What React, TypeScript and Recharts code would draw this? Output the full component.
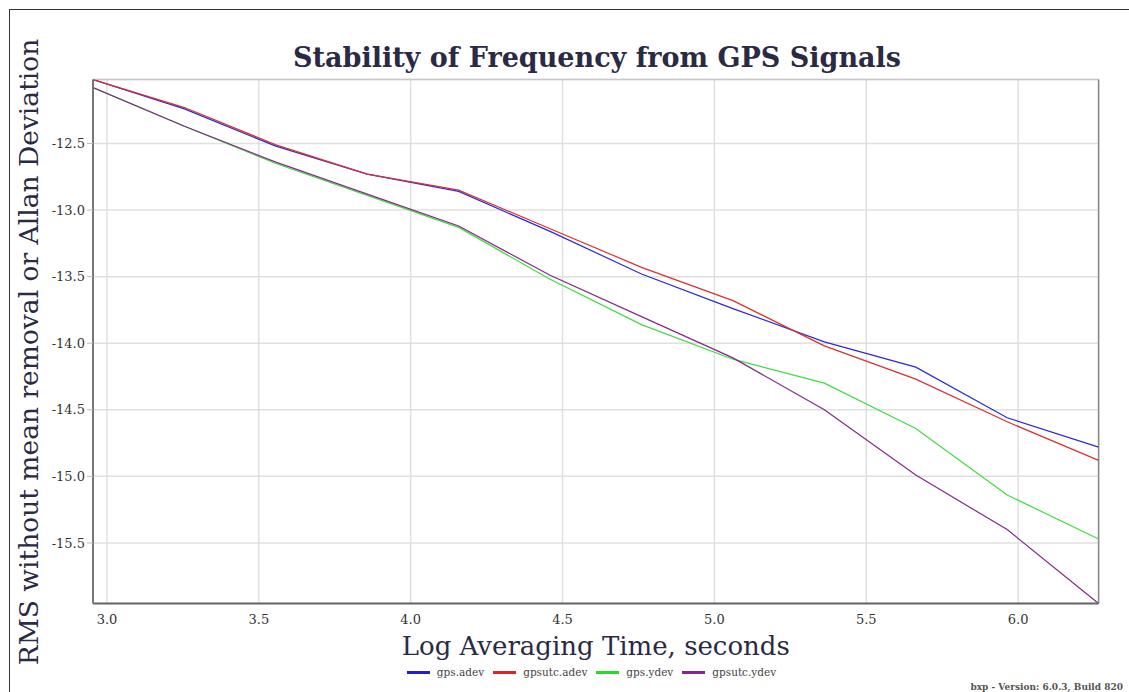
import React from 'react';
import { LineChart, Line, XAxis, YAxis, CartesianGrid, Legend, ReferenceLine } from 'recharts';

// log10 of averaging time (seconds)
const logTau = [2.954, 3.255, 3.556, 3.857, 4.158, 4.459, 4.760, 5.061, 5.362, 5.663, 5.964, 6.265];
const gpsAdev = [-12.02, -12.24, -12.52, -12.73, -12.86, -13.16, -13.48, -13.74, -13.99, -14.18, -14.56, -14.78];
const gpsutcAdev = [-12.02, -12.23, -12.51, -12.73, -12.85, -13.14, -13.43, -13.68, -14.02, -14.27, -14.59, -14.88];
const gpsYdev = [-12.08, -12.37, -12.65, -12.89, -13.13, -13.52, -13.86, -14.12, -14.30, -14.64, -15.14, -15.47];
const gpsutcYdev = [-12.08, -12.37, -12.64, -12.88, -13.12, -13.49, -13.80, -14.11, -14.50, -14.99, -15.40, -15.955];

const xTicks = [3.0, 3.5, 4.0, 4.5, 5.0, 5.5, 6.0];
const yTicks = [-12.5, -13.0, -13.5, -14.0, -14.5, -15.0, -15.5];

const seriesKeys = ['gpsAdev', 'gpsutcAdev', 'gpsYdev', 'gpsutcYdev'];
const seriesNames = ['gps.adev', 'gpsutc.adev', 'gps.ydev', 'gpsutc.ydev'];
const seriesColors = ['#2a2ad6', '#d93030', '#3fdc3f', '#86298a'];
const legendColors = ['#1f1fd8', '#e02222', '#22dd22', '#8a2590'];

const titleText = 'Stability of Frequency from GPS Signals';
const xTitle = 'Log Averaging Time, seconds';
const yTitle = 'RMS without mean removal or Allan Deviation';
const footerText = 'bxp - Version: 6.0.3, Build 820';

const rows = logTau.map((x, i) => ({
  x,
  gpsAdev: gpsAdev[i],
  gpsutcAdev: gpsutcAdev[i],
  gpsYdev: gpsYdev[i],
  gpsutcYdev: gpsutcYdev[i],
}));

const allVals = [...gpsAdev, ...gpsutcAdev, ...gpsYdev, ...gpsutcYdev];
const yMax = Math.max(...allVals);
const xMax = logTau[logTau.length - 1];

const SERIF = "'DejaVu Serif', serif";
const INK = '#2a2a44';

const LegendContent = () => (
  <div style={{ display: 'flex', justifyContent: 'center', alignItems: 'center', fontFamily: SERIF, fontSize: 10.5, color: '#444' }}>
    {seriesNames.map((n, i) => (
      <div key={n} style={{ display: 'flex', alignItems: 'center', marginRight: 9 }}>
        <div style={{ width: 23, height: 3, background: legendColors[i], marginRight: 7 }} />
        <span>{n}</span>
      </div>
    ))}
  </div>
);

const XTitle = (props: any) => {
  const vb = props.viewBox || {};
  return (
    <text x={vb.x + vb.width / 2} y={655} textAnchor="middle" fontFamily={SERIF} fontSize={26} fill={INK}>
      {xTitle}
    </text>
  );
};

const YTitle = () => {
  const cy = 352;
  const bx = 38;
  return (
    <text x={bx} y={cy} textAnchor="middle" transform={`rotate(-90, ${bx}, ${cy})`} fontFamily={SERIF} fontSize={26.5} fill={INK}>
      {yTitle}
    </text>
  );
};

export default function App() {
  return (
    <div style={{ position: 'absolute', left: 0, top: 0, width: 1129, height: 692, background: '#fff', overflow: 'hidden' }}>
      <div style={{ position: 'absolute', left: 9, top: 9, right: 0, bottom: 0, borderTop: '1.5px solid #333', borderLeft: '1.5px solid #333' }} />
      <LineChart width={1129} height={692} data={rows} margin={{ top: 79.6, right: 30.4, bottom: 58.5, left: 33 }}>
        <CartesianGrid stroke="#e0e0e0" strokeWidth={1.5} />
        <ReferenceLine y={yMax} stroke="#c8c8c8" strokeWidth={1.5} ifOverflow="visible" />
        <ReferenceLine x={xMax} stroke="#888" strokeWidth={1.5} ifOverflow="visible" />
        <XAxis
          dataKey="x"
          type="number"
          domain={['dataMin', 'dataMax']}
          ticks={xTicks}
          tickFormatter={(v: number) => v.toFixed(1)}
          axisLine={{ stroke: '#666', strokeWidth: 2 }}
          tickLine={false}
          tickMargin={5}
          tick={{ fontFamily: SERIF, fontSize: 13, fill: '#333' }}
          height={30}
          allowDataOverflow
          label={{ content: XTitle }}
        />
        <YAxis
          type="number"
          domain={['dataMin', 'dataMax']}
          ticks={yTicks}
          tickFormatter={(v: number) => v.toFixed(1)}
          axisLine={{ stroke: '#777', strokeWidth: 2 }}
          tickLine={{ stroke: '#bbb' }}
          tickSize={6}
          tickMargin={2}
          tick={{ fontFamily: SERIF, fontSize: 13, fill: '#333' }}
          width={60}
          allowDataOverflow
          label={{ content: YTitle }}
        />
        <Legend
          verticalAlign="middle"
          align="center"
          layout="horizontal"
          wrapperStyle={{ position: 'absolute', top: 666, left: 93, width: 1006, height: 16 }}
          content={LegendContent}
        />
        {seriesKeys.map((k, i) => (
          <Line
            key={k}
            dataKey={k}
            name={seriesNames[i]}
            stroke={seriesColors[i]}
            strokeWidth={1.2}
            dot={false}
            isAnimationActive={false}
            type="linear"
          />
        ))}
      </LineChart>
      <svg width={1129} height={692} style={{ position: 'absolute', left: 0, top: 0, pointerEvents: 'none' }}>
        <text x={597} y={67} textAnchor="middle" fontFamily={SERIF} fontWeight="bold" fontSize={27} fill={INK}>
          {titleText}
        </text>
        <text x={1123} y={690} textAnchor="end" fontFamily={SERIF} fontWeight="bold" fontSize={9} fill="#555">
          {footerText}
        </text>
      </svg>
    </div>
  );
}
